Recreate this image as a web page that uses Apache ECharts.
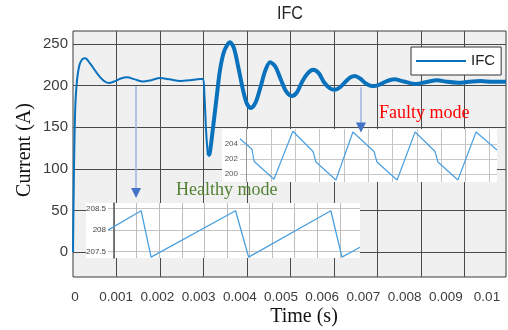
<!DOCTYPE html>
<html>
<head>
<meta charset="utf-8">
<script src="https://cdn.jsdelivr.net/npm/echarts@6/dist/echarts.min.js"></script>
<style>html,body{margin:0;padding:0;background:#fff;}#c{width:508px;height:330px;}</style>
</head>
<body>
<div id="c"></div>
<script>
// ---- main waveform (time in ms, current in A) ----
const healthyTimeMs = [0, 0.02, 0.05, 0.09, 0.15, 0.22, 0.28, 0.4, 0.55, 0.7, 0.82, 0.95, 1.1, 1.24, 1.42, 1.61, 1.8, 2.0, 2.22, 2.46, 2.7, 2.92, 2.99, 3.02, 3.06, 3.1];
const healthyCurrent = [0, 90, 170, 205, 225, 232, 233, 226, 215, 206, 203, 205, 208.5, 210, 207.5, 204.8, 206.5, 209, 207.5, 205.5, 206.5, 208, 208, 190, 145, 116];
const faultyTimeMs = [3.1, 3.14, 3.22, 3.3, 3.38, 3.48, 3.61, 3.7, 3.8, 3.92, 4.0, 4.09, 4.2, 4.32, 4.42, 4.53, 4.65, 4.78, 4.9, 5.03, 5.15, 5.27, 5.4, 5.52, 5.65, 5.77, 5.9, 6.02, 6.14, 6.27, 6.38, 6.48, 6.6, 6.72, 6.83, 6.94, 7.06, 7.2, 7.38, 7.6, 7.89, 8.1, 8.37, 8.6, 8.85, 9.1, 9.36, 9.65, 9.954];
const faultyCurrent = [116, 118, 150, 185, 219, 242, 252, 245, 222, 192, 178, 173, 180, 200, 218, 228, 223, 207, 193, 187.5, 192, 205, 215, 219, 215, 204, 197, 195, 198, 205, 210, 211.5, 208.5, 203, 200, 199.5, 201.5, 205, 207.5, 205, 202, 204, 206.5, 204.5, 203.5, 204.5, 205.5, 204.5, 204.5];
// ---- x tick labels (s) ----
const xTickMin = 0, xTickMax = 0.01, xTickStep = 0.001;
// ---- healthy-mode zoom (arbitrary time units, A) ----
const healthyZoomT = [-0.267, 1.2, 1.64, 5.38, 5.96, 9.6, 10.09, 10.89];
const healthyZoomI = [208.0, 208.45, 207.37, 208.45, 207.37, 208.45, 207.37, 207.6];
// ---- faulty-mode zoom (arbitrary time units, A) ----
const faultyZoomT = [-0.276, 0.218, 0.3, 1.12, 1.9, 2.73, 2.85, 3.67, 4.37, 5.24, 5.36, 6.19, 6.93, 7.75, 7.87, 8.69, 9.44, 10.3];
const faultyZoomI = [204.7, 203.3, 201.7, 199.3, 205.7, 203.0, 201.6, 199.2, 205.6, 203.0, 201.6, 199.2, 205.6, 203.0, 201.6, 199.2, 205.6, 203.2];
// ---- annotation arrows (ms, A) ----
const healthyArrow = {t: 1.45, from: 199.5, to: 77, head: 71};
const faultyArrow = {t: 6.62, from: 198, to: 155, head: 149.6};

const zip = (a, b) => a.map((v, i) => [v, b[i]]);
const SANS = '"Liberation Sans", Arial, sans-serif';
const SERIF = '"Liberation Serif", "Times New Roman", serif';
const LINE = '#0a72bd';

const chart = echarts.init(document.getElementById('c'), null, {renderer: 'canvas'});
chart.setOption({
  animation: false,
  grid: [
    {left: 73, top: 31, width: 433, height: 246, show: true, backgroundColor: '#f0f0f0', borderColor: '#3a3a3a', borderWidth: 1, z: 0},
    {left: 75, top: 31, width: 412, height: 246, show: false},
    {left: 108, top: 203, width: 252, height: 55, show: false, z: 4},
    {left: 240, top: 129, width: 257, height: 53, show: false, z: 4}
  ],
  xAxis: [
    {gridIndex: 0, type: 'value', min: 0, max: 9.954, minInterval: 1, maxInterval: 1,
     axisLine: {show: false}, axisTick: {show: false}, axisLabel: {show: false},
     splitLine: {show: true, showMinLine: false, showMaxLine: false, lineStyle: {color: '#4a4a4a', width: 1}}},
    {gridIndex: 1, type: 'value', min: xTickMin, max: xTickMax, interval: xTickStep,
     axisLine: {show: false}, axisTick: {show: false}, splitLine: {show: false},
     axisLabel: {show: true, color: '#3c3c3c', fontSize: 13.5, fontFamily: SANS, margin: 13}},
    {gridIndex: 2, type: 'value', min: healthyZoomT[0], max: healthyZoomT[healthyZoomT.length - 1], minInterval: 1, maxInterval: 1, z: 4,
     axisLine: {show: false}, axisTick: {show: false}, axisLabel: {show: false},
     splitLine: {show: true, showMinLine: false, showMaxLine: false, lineStyle: {color: '#bdbdbd', width: 1}}},
    {gridIndex: 3, type: 'value', min: faultyZoomT[0], max: faultyZoomT[faultyZoomT.length - 1], minInterval: 1, maxInterval: 1, z: 4,
     axisLine: {show: false}, axisTick: {show: false}, axisLabel: {show: false},
     splitLine: {show: true, showMinLine: false, showMaxLine: false, lineStyle: {color: '#c4c4c4', width: 1}}}
  ],
  yAxis: [
    {gridIndex: 0, type: 'value', min: -30, max: 265.6, minInterval: 50, maxInterval: 50,
     axisLine: {show: false}, axisTick: {show: false},
     axisLabel: {show: true, showMinLabel: false, showMaxLabel: false, color: '#3c3c3c', fontSize: 15, fontFamily: SANS, margin: 5},
     splitLine: {show: true, showMinLine: false, showMaxLine: false, lineStyle: {color: '#4a4a4a', width: 1}}},
    {gridIndex: 1, type: 'value', show: false},
    {gridIndex: 2, type: 'value', min: 207.35, max: 208.63, minInterval: 0.5, maxInterval: 0.5, z: 4,
     axisLine: {show: true, lineStyle: {color: '#555', width: 1.5}}, axisTick: {show: false},
     axisLabel: {show: true, showMinLabel: false, showMaxLabel: false, color: '#444', fontSize: 8, fontFamily: SANS, margin: 2},
     splitLine: {show: true, showMinLine: false, showMaxLine: false, lineStyle: {color: '#c4c4c4', width: 1}}},
    {gridIndex: 3, type: 'value', min: 198.93, max: 206.0, minInterval: 2, maxInterval: 2, z: 4,
     axisLine: {show: true, lineStyle: {color: '#999', width: 1}}, axisTick: {show: false},
     axisLabel: {show: true, showMinLabel: false, showMaxLabel: false, color: '#555', fontSize: 8, fontFamily: SANS, margin: 2},
     splitLine: {show: true, showMinLine: false, showMaxLine: false, lineStyle: {color: '#c8c8c8', width: 1}}}
  ],
  legend: {
    data: ['IFC'], left: 411, top: 47, icon: 'rect', itemWidth: 50, itemHeight: 2, padding: [5, 6, 5, 5],
    backgroundColor: '#fff', borderColor: '#333', borderWidth: 1, borderRadius: 0,
    itemStyle: {color: LINE},
    textStyle: {color: '#222', fontSize: 15, fontFamily: SANS, lineHeight: 18}
  },
  series: [
    {name: 'IFC', type: 'line', xAxisIndex: 0, yAxisIndex: 0, data: zip(healthyTimeMs, healthyCurrent),
     symbol: 'none', smooth: 0.3, lineStyle: {color: LINE, width: 2}, itemStyle: {color: LINE}, z: 2,
     markLine: {silent: true, symbol: 'none', label: {show: false}, lineStyle: {color: '#9db4de', width: 1.5, type: 'solid'},
       data: [[{coord: [healthyArrow.t, healthyArrow.from]}, {coord: [healthyArrow.t, healthyArrow.to]}],
              [{coord: [faultyArrow.t, faultyArrow.from]}, {coord: [faultyArrow.t, faultyArrow.to]}]]},
     markPoint: {silent: true, symbol: 'triangle', symbolRotate: 180, symbolSize: [10, 10], label: {show: false},
       itemStyle: {color: '#4472c4'}, z: 6,
       data: [{coord: [healthyArrow.t, healthyArrow.head]}, {coord: [faultyArrow.t, faultyArrow.head]}]}},
    {name: 'IFC', type: 'line', xAxisIndex: 0, yAxisIndex: 0, data: zip(faultyTimeMs, faultyCurrent),
     symbol: 'none', smooth: 0.3, lineStyle: {color: LINE, width: 4}, itemStyle: {color: LINE}, z: 2},
    {name: 'healthyZoom', type: 'line', xAxisIndex: 2, yAxisIndex: 2, data: zip(healthyZoomT, healthyZoomI),
     symbol: 'none', lineStyle: {color: '#4a9fdf', width: 1.3}, z: 5},
    {name: 'faultyZoom', type: 'line', xAxisIndex: 3, yAxisIndex: 3, data: zip(faultyZoomT, faultyZoomI),
     symbol: 'none', lineStyle: {color: '#4a9fdf', width: 1.2}, z: 5}
  ],
  graphic: [
    {type: 'rect', z: 3, silent: true, shape: {x: 86, y: 203, width: 274, height: 55}, style: {fill: '#fff'}},
    {type: 'rect', z: 3, silent: true, shape: {x: 222, y: 129, width: 275, height: 53}, style: {fill: '#fff'}},
    {type: 'text', z: 7, x: 290, y: 14, scaleX: 0.85, style: {text: 'IFC', fill: '#262626', font: '19px ' + SANS, textAlign: 'center', textVerticalAlign: 'middle'}},
    {type: 'text', z: 7, x: 25, y: 150, rotation: Math.PI / 2, style: {text: 'Current (A)', fill: '#111', font: '20px ' + SERIF, textAlign: 'center', textVerticalAlign: 'middle'}},
    {type: 'text', z: 7, x: 304, y: 317, style: {text: 'Time (s)', fill: '#111', font: '20px ' + SERIF, textAlign: 'center', textVerticalAlign: 'middle'}},
    {type: 'text', z: 7, x: 176, y: 190, style: {text: 'Healthy mode', fill: '#548235', font: '18px ' + SERIF, textAlign: 'left', textVerticalAlign: 'middle'}},
    {type: 'text', z: 7, x: 379, y: 113, style: {text: 'Faulty mode', fill: '#ff0000', font: '18px ' + SERIF, textAlign: 'left', textVerticalAlign: 'middle'}}
  ]
});
</script>
</body>
</html>
